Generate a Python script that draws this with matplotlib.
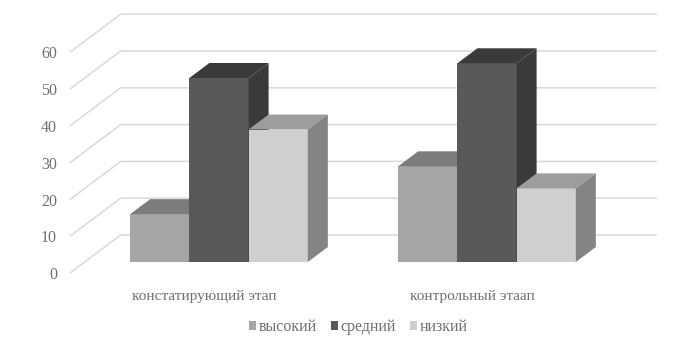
import numpy as np
from matplotlib import pyplot as plt
from matplotlib.patches import Polygon, Patch

plt.rcParams["font.family"] = "serif"
plt.rcParams["font.serif"] = ["Liberation Serif", "DejaVu Serif"]

categories = ["констатирующий этап", "контрольный этаап"]
series = ["высокий", "средний", "низкий"]
vysokiy = [13, 26]
sredniy = [50, 54]
nizkiy = [36, 20]
y_ticks = [0, 10, 20, 30, 40, 50, 60]

# front / top / side shades for each series
FACES = [
    ("#a5a5a5", "#7c7c7c", "#6e6e6e"),
    ("#595959", "#3a3a3a", "#3a3a3a"),
    ("#d0cfd0", "#9d9d9d", "#848484"),
]
TEXT = "#6f6f6f"
GRID = "#d9d9d9"

W, H, DPI = 693, 345, 100
PX_X = 268.0   # pixels per category
PX_Y = 3.68    # pixels per value unit
BAR_W = 0.221  # bar width in categories
DX, DY = 20 / PX_X, 15 / PX_Y  # oblique shift for one bar depth

fig = plt.figure(figsize=(W / DPI, H / DPI), dpi=DPI)
ax = fig.add_axes([0, 0, 1, 1])
ax.set_xlim(-219 / PX_X, (W - 219) / PX_X)
ax.set_ylim(-(H - 262) / PX_Y, 262 / PX_Y)
ax.axis("off")

# walls: front edge at depth d0, back wall at depth d1
d0, d1 = -0.733, 1.80
x_left = -219 / PX_X + 70 / PX_X - d0 * DX
x_right = (657 - 219) / PX_X - d1 * DX
for v in y_ticks:
    xf, yf = x_left + d0 * DX, v + d0 * DY
    xb, yb = x_left + d1 * DX, v + d1 * DY
    ax.plot([xf, xb, x_right + d1 * DX], [yf, yb, yb], color=GRID, lw=1.1,
            solid_capstyle="butt", zorder=1)
    ax.text(xf - 13 / PX_X, yf - 0.6, str(v), ha="right", va="center",
            fontsize=11.5, color=TEXT)


def box(x0, h, colors):
    front, top, side = colors
    x1 = x0 + BAR_W
    ax.add_patch(Polygon([(x0, 0), (x1, 0), (x1, h), (x0, h)],
                         closed=True, fc=front, ec="none", zorder=3))
    ax.add_patch(Polygon([(x0, h), (x1, h), (x1 + DX, h + DY), (x0 + DX, h + DY)],
                         closed=True, fc=top, ec="none", zorder=3))
    ax.add_patch(Polygon([(x1, 0), (x1 + DX, DY), (x1 + DX, h + DY), (x1, h)],
                         closed=True, fc=side, ec="none", zorder=3))


data = [vysokiy, sredniy, nizkiy]
for i, cat in enumerate(categories):
    for j in range(len(series)):
        box(i + (j - 1.5) * BAR_W, data[j][i], FACES[j])
    ax.text(i + d0 * DX, -9.3, cat, ha="center", va="center",
            fontsize=11, color=TEXT)

handles = [Patch(fc=FACES[j][0], ec="none") for j in range(len(series))]
fig.legend(handles, series, loc="center", bbox_to_anchor=(0.517, 0.052),
           ncol=3, frameon=False, fontsize=11.5, labelcolor=TEXT,
           handlelength=0.45, handleheight=0.45, handletextpad=0.15,
           columnspacing=0.9)

fig.savefig("out.png", dpi=DPI)
